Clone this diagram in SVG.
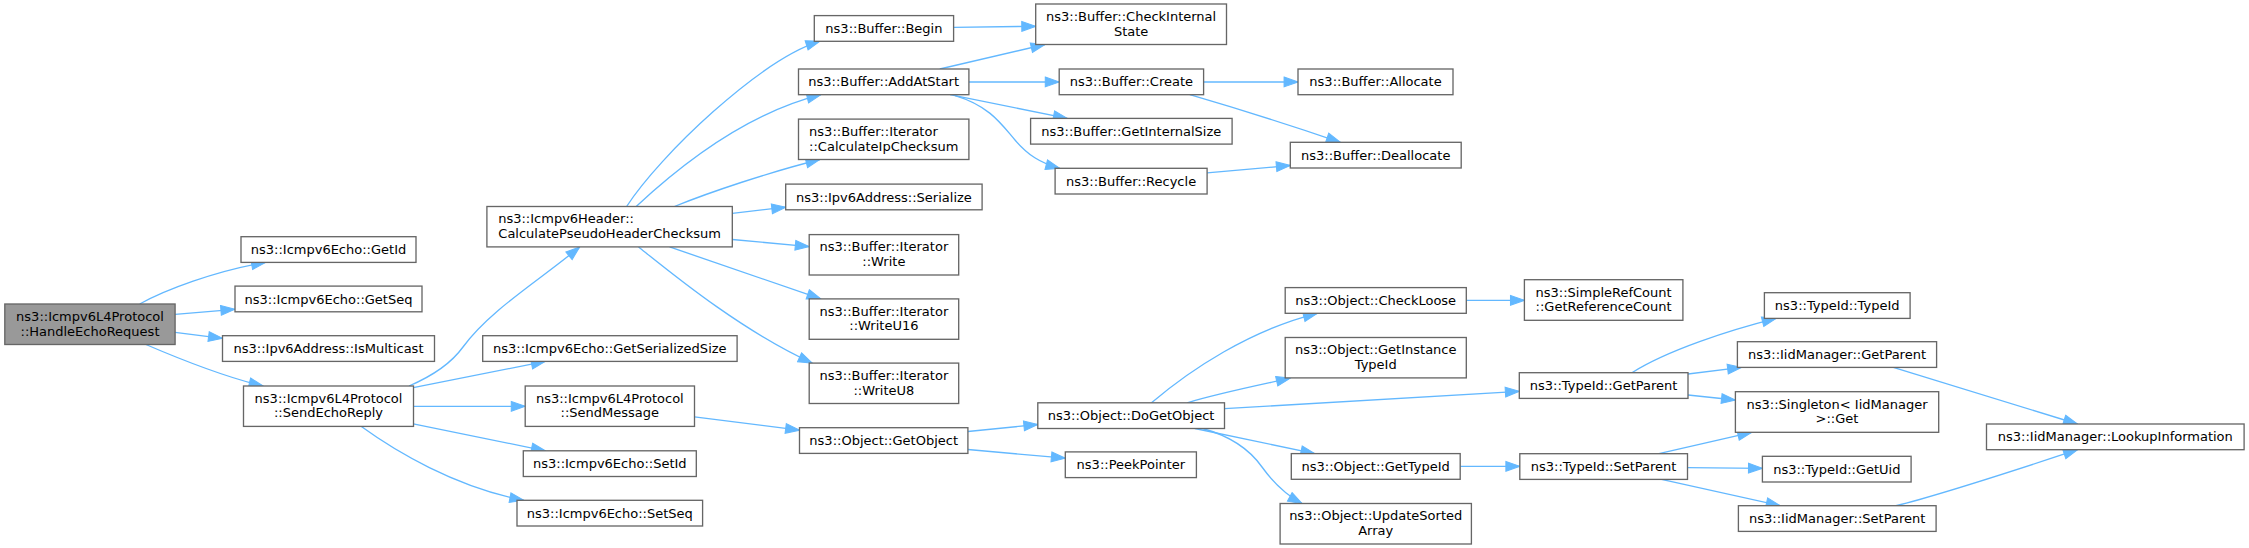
<svg xmlns="http://www.w3.org/2000/svg" width="2249" height="548" viewBox="0 0 2249 548">
<style>
.node rect{fill:#ffffff;stroke:#666666;stroke-width:1.33}
.root rect{fill:#999999}
text{font-family:"DejaVu Sans","Liberation Sans",sans-serif;font-size:13px;fill:#000000;text-anchor:middle}
text.l{text-anchor:start}
#edges path{fill:none;stroke:#63b8ff;stroke-width:1.33;marker-end:url(#arr)}
</style>
<defs>
<marker id="arr" markerUnits="userSpaceOnUse" markerWidth="16" markerHeight="12" viewBox="-1 -1 15.3 11.33" refX="13.3" refY="4.67" orient="auto">
<path d="M0,0 L13.3,4.67 L0,9.33 Z" fill="#63b8ff" stroke="#63b8ff" stroke-width="1"/>
</marker>
</defs>
<rect x="0" y="0" width="2249" height="548" fill="#ffffff"/>
<g id="edges">
<path d="M139.7,304 C165,290 215,271 265.5,262.4"/>
<path d="M175.1,314.3 L234.8,309.3"/>
<path d="M175.1,332.3 L222.4,338.3"/>
<path d="M145.9,344.5 C175,357 225,377 263,386"/>
<path d="M409,386 C430,377 450,365 463,347 C490,310 540,280 579.7,246.9"/>
<path d="M413.3,387.7 L545.3,361.4"/>
<path d="M413.3,406.3 L525.2,406.3"/>
<path d="M413.3,423.8 L545.3,450.8"/>
<path d="M361,426.3 C395,451 455,487 523.7,500.3"/>
<path d="M626.6,206.5 C660,155 760,60 819.9,41.2"/>
<path d="M636.2,206.5 C670,175 740,115 820.9,94.7"/>
<path d="M674.4,206.5 C710,192 770,172 819.9,159.5"/>
<path d="M732.3,213.3 L785.7,207.2"/>
<path d="M732.3,239.5 L809.2,246.6"/>
<path d="M669.6,246.9 L820.9,298.9"/>
<path d="M638.5,246.9 C670,272 740,330 812.2,363.1"/>
<path d="M939.8,69 L1044.9,44.5"/>
<path d="M968.9,82 L1059.2,82"/>
<path d="M950,94.7 L1067.3,118.4"/>
<path d="M955.1,95.6 C990,106 1002,125 1015,140 C1028,155 1040,163 1059.7,168.3"/>
<path d="M953.6,27.3 L1035.7,26.3"/>
<path d="M1203.6,82 L1298,82"/>
<path d="M1189.8,94.7 C1225,105 1290,125 1340.3,142.3"/>
<path d="M1207.1,172.9 L1290.3,165.5"/>
<path d="M694.5,416.8 L799.5,430.2"/>
<path d="M967.9,431.5 L1037.8,424.5"/>
<path d="M967.9,449.5 L1065.3,458.2"/>
<path d="M1151.5,402.8 C1190,370 1250,330 1317.3,313.3"/>
<path d="M1187.2,402.8 C1220,393 1260,385 1290.3,378.2"/>
<path d="M1224.5,408.7 L1519.3,391.3"/>
<path d="M1194.9,428.5 L1314.8,453.6"/>
<path d="M1202.6,428.5 C1230,436 1250,450 1262,467 C1275,485 1290,497 1302,503.5"/>
<path d="M1466.3,300.3 L1524.4,300.3"/>
<path d="M1460.2,466.3 L1519.8,466.3"/>
<path d="M1631.9,372.7 C1668,350 1730,330 1776.1,318.4"/>
<path d="M1688,374 L1741.5,367.4"/>
<path d="M1688,395 L1735.4,400"/>
<path d="M1658.9,453.7 L1751.7,432.3"/>
<path d="M1687.5,467.7 L1762.4,468.3"/>
<path d="M1661.5,479.4 L1780.2,505.7"/>
<path d="M1893.3,367.4 L2077.5,424"/>
<path d="M1895.9,505.7 C1940,495 2010,472 2077.5,449.7"/>
</g>
<g id="n0" class="node root"><rect x="4.8" y="304" width="170.3" height="40.5"/><text x="90" y="320.9">ns3::Icmpv6L4Protocol</text><text x="90" y="335.5">::HandleEchoRequest</text></g>
<g id="n1" class="node"><rect x="241" y="236.7" width="175" height="25.7"/><text x="328.5" y="254.1">ns3::Icmpv6Echo::GetId</text></g>
<g id="n2" class="node"><rect x="235" y="286.1" width="187" height="25.7"/><text x="328.5" y="303.5">ns3::Icmpv6Echo::GetSeq</text></g>
<g id="n3" class="node"><rect x="222.5" y="335.7" width="212" height="25.7"/><text x="328.5" y="353.1">ns3::Ipv6Address::IsMulticast</text></g>
<g id="n4" class="node"><rect x="243.5" y="386" width="170" height="40.4"/><text x="328.5" y="402.8">ns3::Icmpv6L4Protocol</text><text x="328.5" y="417.4">::SendEchoReply</text></g>
<g id="n5" class="node"><rect x="486.9" y="206.5" width="245.4" height="40.4"/><text class="l" x="498.2" y="223.3">ns3::Icmpv6Header::</text><text x="609.6" y="237.9">CalculatePseudoHeaderChecksum</text></g>
<g id="n6" class="node"><rect x="482.7" y="335.7" width="254.4" height="25.7"/><text x="609.8" y="353.1">ns3::Icmpv6Echo::GetSerializedSize</text></g>
<g id="n7" class="node"><rect x="525.2" y="386" width="169.3" height="40.4"/><text x="609.8" y="402.8">ns3::Icmpv6L4Protocol</text><text x="609.8" y="417.4">::SendMessage</text></g>
<g id="n8" class="node"><rect x="523.3" y="450.8" width="173" height="25.7"/><text x="609.8" y="468.2">ns3::Icmpv6Echo::SetId</text></g>
<g id="n9" class="node"><rect x="517" y="500.3" width="185.6" height="25.7"/><text x="609.8" y="517.7">ns3::Icmpv6Echo::SetSeq</text></g>
<g id="n10" class="node"><rect x="814.3" y="15.6" width="139.3" height="25.7"/><text x="883.9" y="33">ns3::Buffer::Begin</text></g>
<g id="n11" class="node"><rect x="798.5" y="69" width="170.4" height="25.7"/><text x="883.7" y="86.4">ns3::Buffer::AddAtStart</text></g>
<g id="n12" class="node"><rect x="798.5" y="119.1" width="170.4" height="40.4"/><text class="l" x="809.1" y="135.9">ns3::Buffer::Iterator</text><text x="883.7" y="150.5">::CalculateIpChecksum</text></g>
<g id="n13" class="node"><rect x="785.7" y="184.1" width="196.4" height="25.7"/><text x="883.9" y="201.5">ns3::Ipv6Address::Serialize</text></g>
<g id="n14" class="node"><rect x="809.2" y="234.6" width="149.5" height="40.4"/><text x="883.9" y="251.4">ns3::Buffer::Iterator</text><text x="883.9" y="266">::Write</text></g>
<g id="n15" class="node"><rect x="809.2" y="298.9" width="149.5" height="40.4"/><text x="883.9" y="315.7">ns3::Buffer::Iterator</text><text x="883.9" y="330.3">::WriteU16</text></g>
<g id="n16" class="node"><rect x="809.2" y="363.1" width="149.5" height="40.4"/><text x="883.9" y="379.9">ns3::Buffer::Iterator</text><text x="883.9" y="394.5">::WriteU8</text></g>
<g id="n17" class="node"><rect x="799.5" y="427.7" width="168.4" height="25.7"/><text x="883.7" y="445.1">ns3::Object::GetObject</text></g>
<g id="n18" class="node"><rect x="1035.7" y="4" width="190.8" height="40.5"/><text x="1131.1" y="20.9">ns3::Buffer::CheckInternal</text><text x="1131.1" y="35.5">State</text></g>
<g id="n19" class="node"><rect x="1059.2" y="69" width="144.4" height="25.7"/><text x="1131.4" y="86.4">ns3::Buffer::Create</text></g>
<g id="n20" class="node"><rect x="1030.6" y="118.4" width="201.5" height="25.7"/><text x="1131.3" y="135.8">ns3::Buffer::GetInternalSize</text></g>
<g id="n21" class="node"><rect x="1055.1" y="168.3" width="152" height="25.7"/><text x="1131.1" y="185.7">ns3::Buffer::Recycle</text></g>
<g id="n22" class="node"><rect x="1037.8" y="402.8" width="186.7" height="25.7"/><text x="1131.1" y="420.2">ns3::Object::DoGetObject</text></g>
<g id="n23" class="node"><rect x="1065.3" y="451.9" width="131.1" height="25.7"/><text x="1130.9" y="469.3">ns3::PeekPointer</text></g>
<g id="n24" class="node"><rect x="1298" y="69" width="155" height="25.7"/><text x="1375.5" y="86.4">ns3::Buffer::Allocate</text></g>
<g id="n25" class="node"><rect x="1290.3" y="142.3" width="170.9" height="25.7"/><text x="1375.7" y="159.7">ns3::Buffer::Deallocate</text></g>
<g id="n26" class="node"><rect x="1285.2" y="287.6" width="181.1" height="25.7"/><text x="1375.7" y="305">ns3::Object::CheckLoose</text></g>
<g id="n27" class="node"><rect x="1285.2" y="337.5" width="181.1" height="40.4"/><text x="1375.7" y="354.3">ns3::Object::GetInstance</text><text x="1375.7" y="368.9">TypeId</text></g>
<g id="n28" class="node"><rect x="1291.3" y="453.6" width="168.9" height="25.7"/><text x="1375.7" y="471">ns3::Object::GetTypeId</text></g>
<g id="n29" class="node"><rect x="1280.1" y="503.5" width="191.3" height="40.5"/><text x="1375.7" y="520.4">ns3::Object::UpdateSorted</text><text x="1375.7" y="535">Array</text></g>
<g id="n30" class="node"><rect x="1524.4" y="279.7" width="158.5" height="40.6"/><text x="1603.6" y="296.6">ns3::SimpleRefCount</text><text x="1603.6" y="311.2">::GetReferenceCount</text></g>
<g id="n31" class="node"><rect x="1519.3" y="372.7" width="168.7" height="25.7"/><text x="1603.6" y="390.1">ns3::TypeId::GetParent</text></g>
<g id="n32" class="node"><rect x="1519.8" y="453.7" width="167.7" height="25.7"/><text x="1603.6" y="471.1">ns3::TypeId::SetParent</text></g>
<g id="n33" class="node"><rect x="1764.4" y="292.7" width="145.7" height="25.7"/><text x="1837.2" y="310.1">ns3::TypeId::TypeId</text></g>
<g id="n34" class="node"><rect x="1737.4" y="341.7" width="199.2" height="25.7"/><text x="1837" y="359.1">ns3::IidManager::GetParent</text></g>
<g id="n35" class="node"><rect x="1735.4" y="391.7" width="203.3" height="40.6"/><text x="1837" y="408.6">ns3::Singleton&lt; IidManager</text><text x="1837" y="423.2">&gt;::Get</text></g>
<g id="n36" class="node"><rect x="1762.4" y="456.3" width="148.7" height="25.7"/><text x="1836.8" y="473.7">ns3::TypeId::GetUid</text></g>
<g id="n37" class="node"><rect x="1738.4" y="505.7" width="197.7" height="25.7"/><text x="1837.2" y="523.1">ns3::IidManager::SetParent</text></g>
<g id="n38" class="node"><rect x="1986.5" y="424" width="257.6" height="25.7"/><text x="2115.3" y="441.4">ns3::IidManager::LookupInformation</text></g>
</svg>
